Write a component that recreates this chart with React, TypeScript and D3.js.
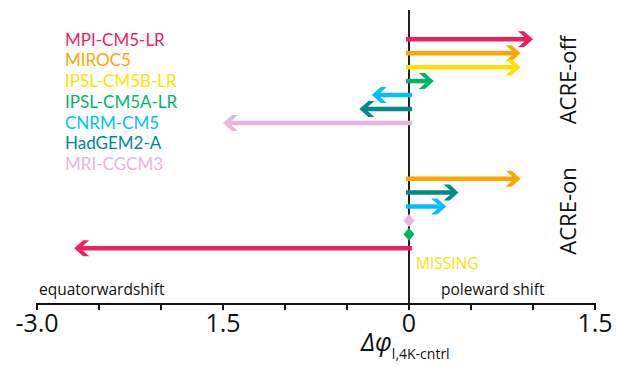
import React from "react";
import * as d3 from "d3";

const models = ["MPI-CM5-LR", "MIROC5", "IPSL-CM5B-LR", "IPSL-CM5A-LR", "CNRM-CM5", "HadGEM2-A", "MRI-CGCM3"];
const modelColors = ["#EE1F5E", "#FFA500", "#FFE100", "#00B468", "#00BFFF", "#008B8B", "#E8B5DD"];

// ACRE-off rows (same order as legend)
const acreOffModels = ["MPI-CM5-LR", "MIROC5", "IPSL-CM5B-LR", "IPSL-CM5A-LR", "CNRM-CM5", "HadGEM2-A", "MRI-CGCM3"];
const acreOffValues = [1.0, 0.9, 0.9, 0.2, -0.3, -0.4, -1.5];

// ACRE-on rows
const acreOnModels = ["MIROC5", "HadGEM2-A", "CNRM-CM5", "MRI-CGCM3", "IPSL-CM5A-LR", "MPI-CM5-LR", "IPSL-CM5B-LR"];
const acreOnValues: (number | null)[] = [0.9, 0.4, 0.3, 0, 0, -2.7, null];

const tickValues = [-3, -2.5, -2, -1.5, -1, -0.5, 0, 0.5, 1, 1.5];
const tickLabels: Record<string, string> = { "-3": "-3.0", "-1.5": "1.5", "0": "0", "1.5": "1.5" };

const FONT = "'Open Sans', 'Noto Sans', sans-serif";
const LEGEND_FONT = "Lato, 'Open Sans', sans-serif";

export default function App() {
  const W = 626, H = 366;
  const x = d3.scaleLinear().domain([-3, 1.5]).range([37, 595]);
  const y = d3.scaleLinear().domain([0, 15]).range([39.3, 248.3]);
  const legendY = d3.scaleLinear().domain([0, 6]).range([45.7, 170]);
  const axisY = 304;
  const colorOf = (m: string) => modelColors[models.indexOf(m)];

  const rows: { model: string; value: number | null; idx: number }[] = [];
  acreOffModels.forEach((m, i) => rows.push({ model: m, value: acreOffValues[i], idx: i }));
  acreOnModels.forEach((m, i) => rows.push({ model: m, value: acreOnValues[i], idx: 10 + i }));

  const x0 = x(0);

  const arrow = (r: { model: string; value: number | null; idx: number }, k: number) => {
    const yy = y(r.idx);
    const c = colorOf(r.model);
    if (r.value === null) {
      return (
        <text key={k} x={x0 + 7} y={yy + 7} fill={c} fontFamily={FONT} fontSize={15.5}>MISSING</text>
      );
    }
    if (r.value === 0) {
      const pts = [[x0, yy - 6.5], [x0 + 5.5, yy], [x0, yy + 6.5], [x0 - 5.5, yy]];
      return <polygon key={k} points={pts.map(p => p.join(",")).join(" ")} fill={c} />;
    }
    const T = x(r.value);
    const s = r.value > 0 ? 1 : -1;
    const lineStart = x0 - s * 3;
    const lineEnd = T - s * 6;
    const head = [
      [T, yy],
      [T - s * 9, yy - 8],
      [T - s * 15, yy - 8],
      [T - s * 6, yy],
      [T - s * 15, yy + 8],
      [T - s * 9, yy + 8],
    ];
    return (
      <g key={k}>
        <line x1={lineStart} x2={lineEnd} y1={yy} y2={yy} stroke={c} strokeWidth={4.5} />
        <polygon points={head.map(p => p.join(",")).join(" ")} fill={c} />
      </g>
    );
  };

  return (
    <svg width={W} height={H} style={{ position: "absolute", left: 0, top: 0, background: "#fff" }}>
      <rect width={W} height={H} fill="#fff" />
      {/* zero line */}
      <line x1={x0} x2={x0} y1={10} y2={axisY} stroke="#222" strokeWidth={2} />
      {/* arrows */}
      {rows.map((r, i) => arrow(r, i))}
      {/* legend */}
      {models.map((m, i) => (
        <text key={m} x={65} y={legendY(i)} fill={modelColors[i]} fontFamily={LEGEND_FONT} fontSize={17}>{m}</text>
      ))}
      {/* group labels */}
      <text transform={`translate(576,80) rotate(-90)`} textAnchor="middle" fontFamily={FONT} fontSize={22} fill="#111">ACRE-off</text>
      <text transform={`translate(576,211) rotate(-90)`} textAnchor="middle" fontFamily={FONT} fontSize={22} fill="#111">ACRE-on</text>
      {/* direction labels */}
      <text x={39} y={295} fontFamily={FONT} fontSize={15.5} fill="#111">equatorwardshift</text>
      <text x={441} y={295} fontFamily={FONT} fontSize={15.5} fill="#111">poleward shift</text>
      {/* axis */}
      <line x1={x(-3) - 1} x2={x(1.5) + 1} y1={axisY} y2={axisY} stroke="#111" strokeWidth={2} />
      {tickValues.map(t => (
        <line key={t} x1={x(t)} x2={x(t)} y1={axisY} y2={axisY + 6} stroke="#111" strokeWidth={2} />
      ))}
      {tickValues.filter(t => tickLabels[String(t)] !== undefined).map(t => (
        <text key={"l" + t} x={x(t)} y={332} textAnchor="middle" fontFamily={FONT} fontSize={25} fill="#111">{tickLabels[String(t)]}</text>
      ))}
      {/* axis title */}
      <text x={361} y={351} fontFamily={FONT} fill="#111">
        <tspan fontSize={25} fontStyle="italic">Δφ</tspan>
        <tspan fontSize={14} dy={8}>l,4K-cntrl</tspan>
      </text>
    </svg>
  );
}
